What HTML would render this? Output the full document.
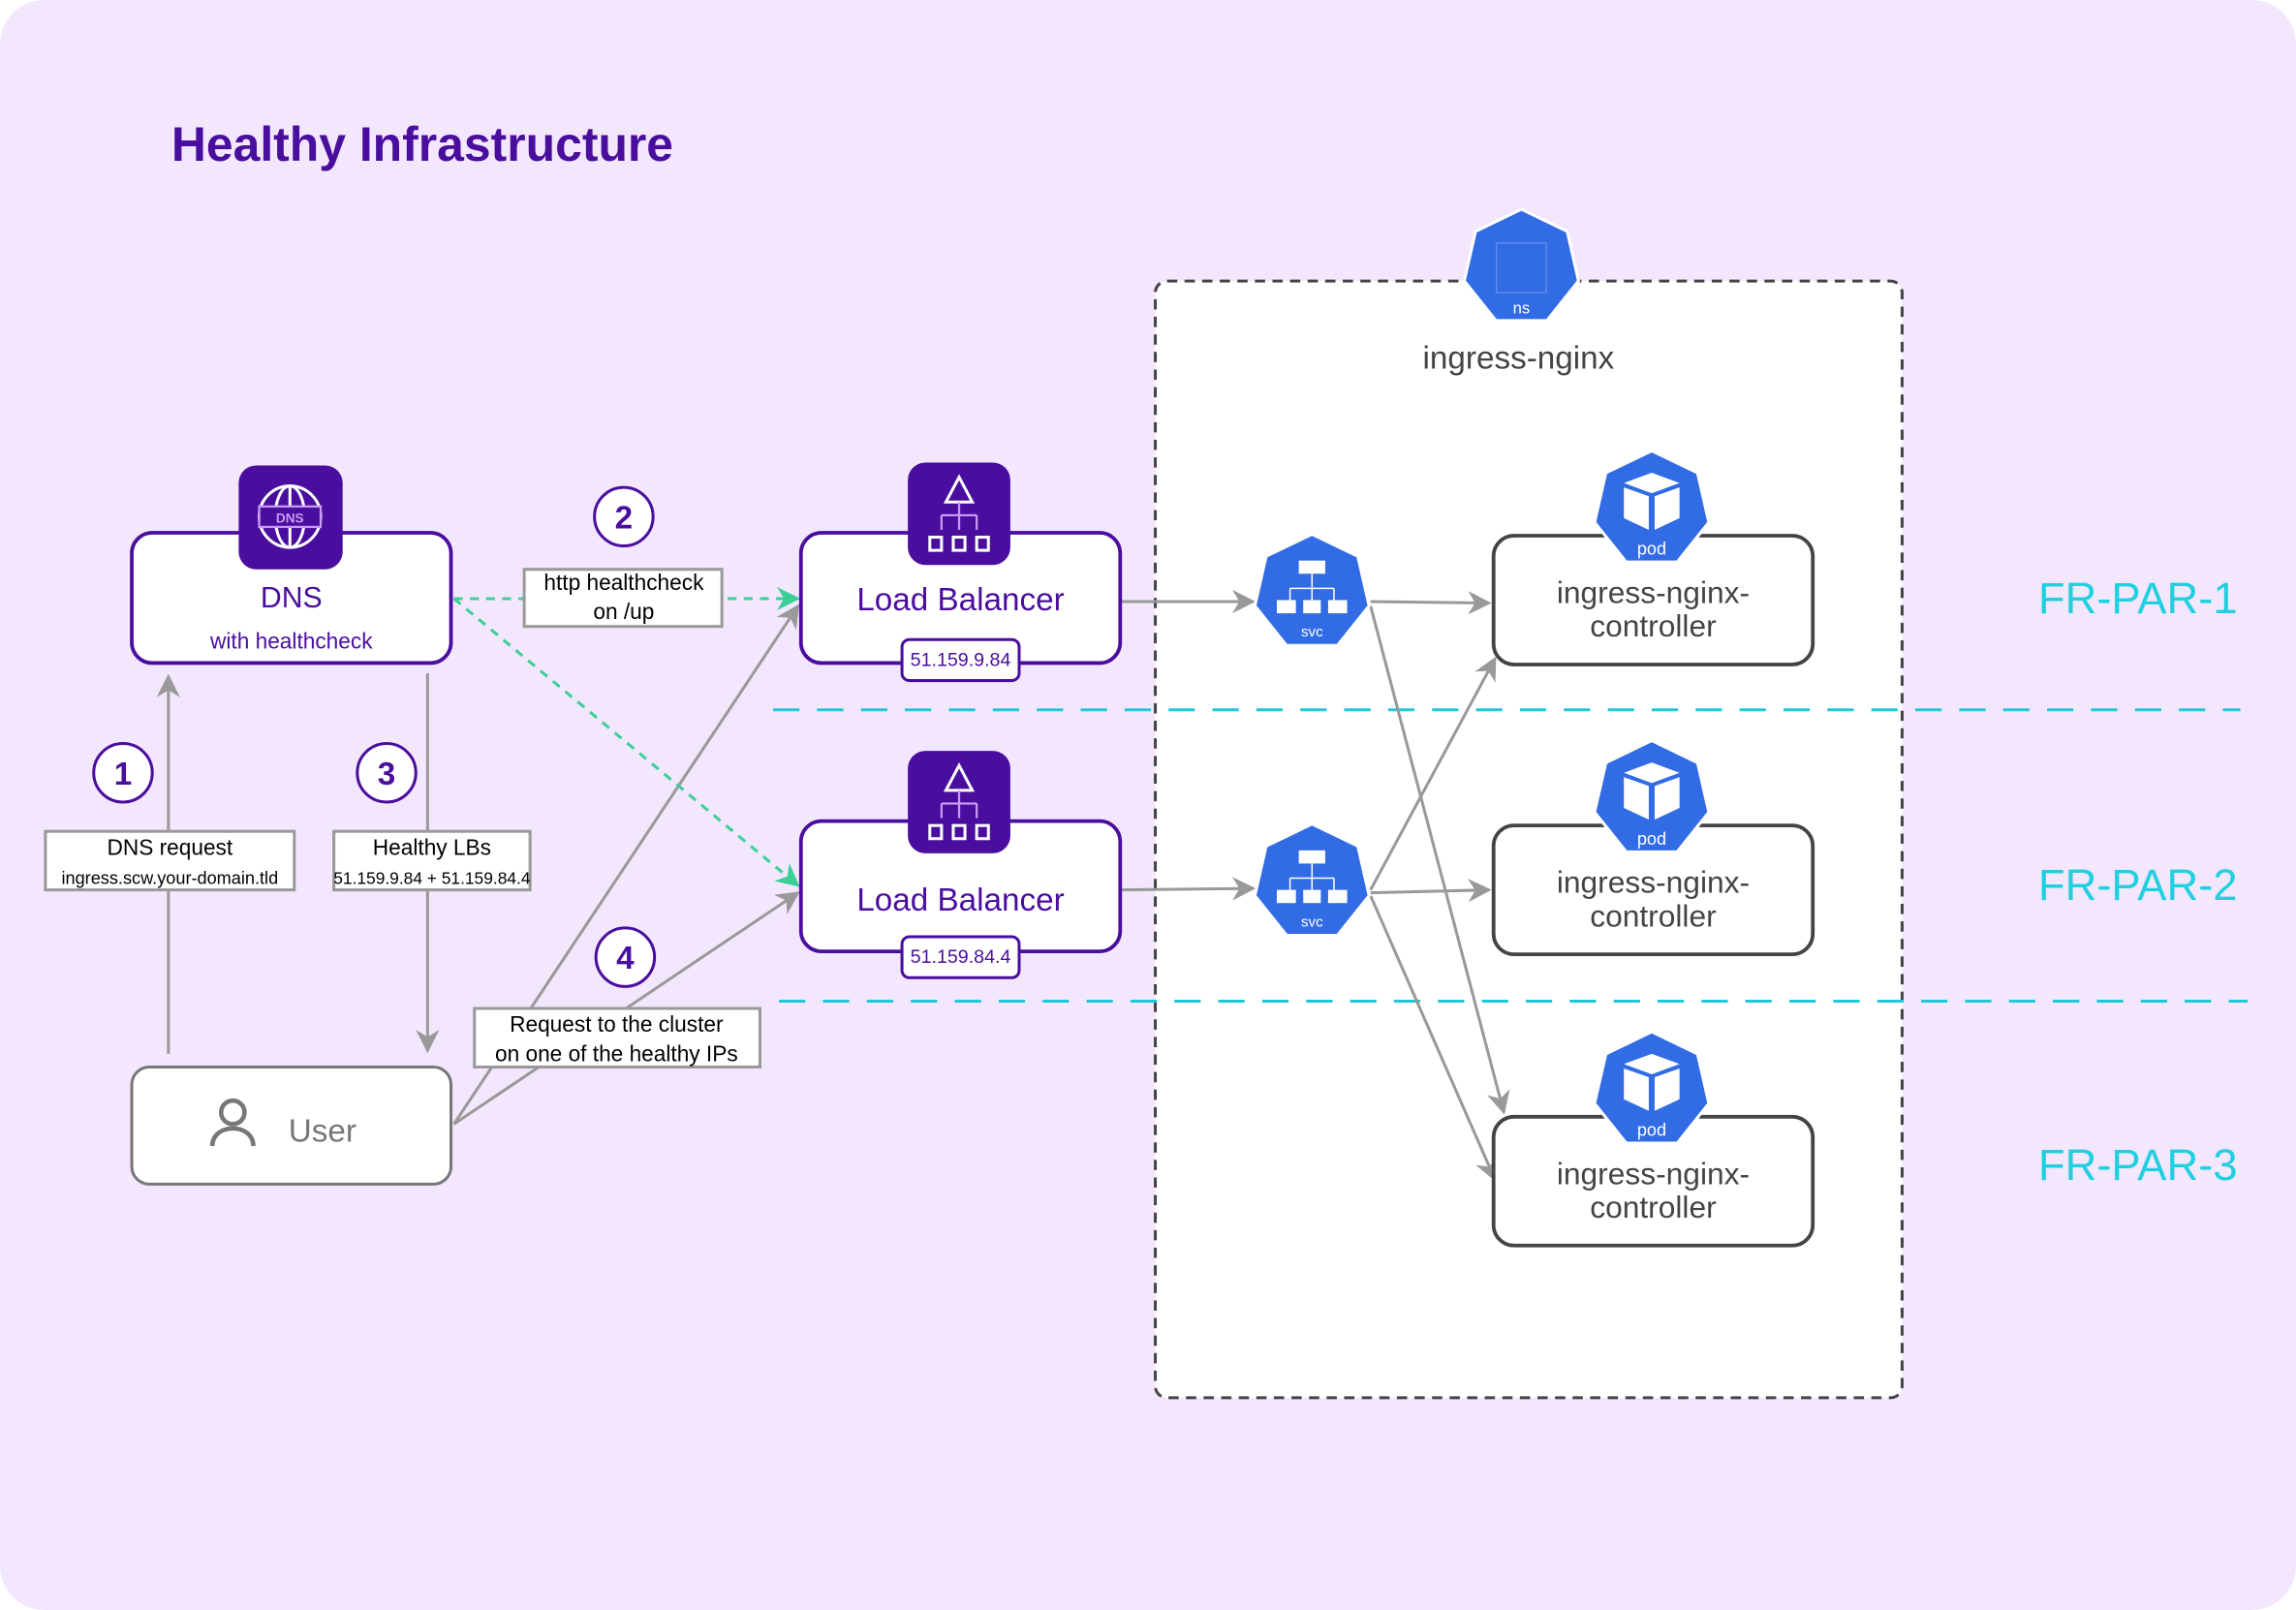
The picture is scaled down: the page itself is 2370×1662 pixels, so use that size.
<!DOCTYPE html>
<html><head><meta charset="utf-8"><style>
html,body{margin:0;padding:0;background:#fff;}
svg{display:block;}
text{font-family:"Liberation Sans",sans-serif;}
</style></head><body>
<svg width="2370" height="1662" viewBox="0 0 1568 1100" preserveAspectRatio="none" xmlns="http://www.w3.org/2000/svg">
<defs>
<marker id="ag" viewBox="0 0 10 10" refX="9" refY="5" markerWidth="16" markerHeight="16" markerUnits="userSpaceOnUse" orient="auto"><path d="M0,0 L10,5 L0,10 L3,5 z" fill="#999"/></marker>
<marker id="agr" viewBox="0 0 10 10" refX="9" refY="5" markerWidth="16" markerHeight="16" markerUnits="userSpaceOnUse" orient="auto"><path d="M0,0 L10,5 L0,10 L3,5 z" fill="#3ccf98"/></marker>
<path id="hept" d="M0,-40 L31.3,-24.9 L39,8.9 L17.4,36 L-17.4,36 L-39,8.9 L-31.3,-24.9 Z"/>
</defs>
<rect x="0" y="0" width="1568" height="1100" rx="30" fill="#f3e7fe"/>
<text x="117" y="110" font-size="33" font-weight="bold" fill="#4a0e9e">Healthy Infrastructure</text>

<!-- namespace container -->
<rect x="789" y="192" width="510" height="763" rx="8" fill="#fff" stroke="#444" stroke-width="2" stroke-dasharray="7,5"/>
<g transform="translate(1039,183)"><use href="#hept" fill="#326ce5" stroke="#fff" stroke-width="2"/>
<rect x="-17" y="-17" width="34" height="34" fill="none" stroke="#5a8af0" stroke-width="1"/>
<text x="0" y="31" font-size="11" fill="#fff" text-anchor="middle">ns</text></g>
<text x="1037" y="252" font-size="22" fill="#444" text-anchor="middle">ingress-nginx</text>

<!-- cyan dashed separators -->
<line x1="528" y1="485" x2="1530" y2="485" stroke="#1fc8d8" stroke-width="2" stroke-dasharray="18,12"/>
<line x1="532" y1="684" x2="1535" y2="684" stroke="#1fc8d8" stroke-width="2" stroke-dasharray="18,12"/>
<text x="1460" y="419" font-size="30" fill="#1fd0e0" text-anchor="middle">FR-PAR-1</text>
<text x="1460" y="615" font-size="30" fill="#1fd0e0" text-anchor="middle">FR-PAR-2</text>
<text x="1460" y="806" font-size="30" fill="#1fd0e0" text-anchor="middle">FR-PAR-3</text>

<!-- connectors -->
<g stroke="#999" stroke-width="2" fill="none">
<line x1="115" y1="720" x2="115" y2="462" marker-end="url(#ag)"/>
<line x1="292" y1="460" x2="292" y2="718" marker-end="url(#ag)"/>
<line x1="310" y1="768" x2="545" y2="414" marker-end="url(#ag)"/>
<line x1="310" y1="768" x2="545" y2="610" marker-end="url(#ag)"/>
<line x1="765" y1="411" x2="856" y2="411" marker-end="url(#ag)"/>
<line x1="765" y1="608" x2="856" y2="607" marker-end="url(#ag)"/>
<line x1="936" y1="411" x2="1017" y2="412" marker-end="url(#ag)"/>
<line x1="936" y1="414" x2="1027" y2="760" marker-end="url(#ag)"/>
<line x1="936" y1="608" x2="1021" y2="450" marker-end="url(#ag)"/>
<line x1="936" y1="610" x2="1017" y2="608" marker-end="url(#ag)"/>
<line x1="936" y1="612" x2="1021" y2="806" marker-end="url(#ag)"/>
</g>
<g stroke="#3ccf98" stroke-width="2" fill="none" stroke-dasharray="6,5">
<line x1="310" y1="409" x2="545" y2="409" marker-end="url(#agr)"/>
<line x1="310" y1="409" x2="545" y2="605" marker-end="url(#agr)"/>
</g>

<!-- label boxes -->
<rect x="358" y="389" width="135" height="39" fill="#fff" stroke="#999" stroke-width="2"/>
<text x="426" y="403" font-size="15" fill="#000" text-anchor="middle">http healthcheck</text>
<text x="426" y="423" font-size="15" fill="#000" text-anchor="middle">on /up</text>
<rect x="31" y="568" width="170" height="40" fill="#fff" stroke="#999" stroke-width="2"/>
<text x="116" y="584" font-size="15" fill="#000" text-anchor="middle">DNS request</text>
<text x="116" y="604" font-size="12" fill="#000" text-anchor="middle">ingress.scw.your-domain.tld</text>
<rect x="228" y="568" width="134" height="40" fill="#fff" stroke="#999" stroke-width="2"/>
<text x="295" y="584" font-size="15" fill="#000" text-anchor="middle">Healthy LBs</text>
<text x="295" y="604" font-size="11.5" fill="#000" text-anchor="middle">51.159.9.84 + 51.159.84.4</text>
<rect x="324" y="689" width="195" height="40" fill="#fff" stroke="#999" stroke-width="2"/>
<text x="421" y="705" font-size="15" fill="#000" text-anchor="middle">Request to the cluster</text>
<text x="421" y="725" font-size="15" fill="#000" text-anchor="middle">on one of the healthy IPs</text>

<!-- step circles -->
<g fill="#fff" stroke="#4a0e9e" stroke-width="2">
<ellipse cx="426" cy="353" rx="20" ry="20"/>
<ellipse cx="84" cy="528" rx="20" ry="20"/>
<ellipse cx="264" cy="528" rx="20" ry="20"/>
<ellipse cx="427" cy="654" rx="20" ry="20"/>
</g>
<g font-size="22" font-weight="bold" fill="#4a0e9e" text-anchor="middle">
<text x="426" y="361">2</text><text x="84" y="536">1</text><text x="264" y="536">3</text><text x="427" y="662">4</text>
</g>

<!-- DNS -->
<rect x="90" y="364" width="218" height="89" rx="14" fill="#fff" stroke="#4a0e9e" stroke-width="2.5"/>
<rect x="163" y="318" width="71" height="71" rx="12" fill="#4a0e9e"/>
<g stroke="#fff" stroke-width="2" fill="none">
<circle cx="198" cy="353" r="21"/>
<ellipse cx="198" cy="353" rx="10" ry="21"/>
<line x1="198" y1="332" x2="198" y2="374"/>
</g>
<rect x="177" y="346" width="42" height="14" fill="#4a0e9e" stroke="#c79cf5" stroke-width="1.5"/>
<text x="198" y="357" font-size="9" fill="#c79cf5" text-anchor="middle" font-weight="bold">DNS</text>
<text x="199" y="415" font-size="20" fill="#4a0e9e" text-anchor="middle">DNS</text>
<text x="199" y="443" font-size="15" fill="#4a0e9e" text-anchor="middle">with healthcheck</text>

<!-- Load Balancers -->
<g id="lb1">
<rect x="547" y="364" width="218" height="89" rx="14" fill="#fff" stroke="#4a0e9e" stroke-width="2.5"/>
<rect x="620" y="316" width="70" height="70" rx="12" fill="#4a0e9e"/>
<path d="M655,326 L646,343 L664,343 Z" fill="none" stroke="#fff" stroke-width="2"/>
<g stroke="#c79cf5" stroke-width="1.5" fill="none"><line x1="655" y1="343" x2="655" y2="362"/><line x1="643" y1="352" x2="667" y2="352"/><line x1="643" y1="352" x2="643" y2="362"/><line x1="667" y1="352" x2="667" y2="362"/></g>
<g fill="none" stroke="#fff" stroke-width="2"><rect x="635" y="367" width="8" height="9"/><rect x="651" y="367" width="8" height="9"/><rect x="667" y="367" width="8" height="9"/></g>
<text x="656" y="417" font-size="22" fill="#4a0e9e" text-anchor="middle">Load Balancer</text>
<rect x="616" y="437" width="80" height="28" rx="5" fill="#fff" stroke="#4a0e9e" stroke-width="2"/>
<text x="656" y="455" font-size="13" fill="#4a0e9e" text-anchor="middle">51.159.9.84</text>
</g>
<g transform="translate(0,197)">
<rect x="547" y="364" width="218" height="89" rx="14" fill="#fff" stroke="#4a0e9e" stroke-width="2.5"/>
<rect x="620" y="316" width="70" height="70" rx="12" fill="#4a0e9e"/>
<path d="M655,326 L646,343 L664,343 Z" fill="none" stroke="#fff" stroke-width="2"/>
<g stroke="#c79cf5" stroke-width="1.5" fill="none"><line x1="655" y1="343" x2="655" y2="362"/><line x1="643" y1="352" x2="667" y2="352"/><line x1="643" y1="352" x2="643" y2="362"/><line x1="667" y1="352" x2="667" y2="362"/></g>
<g fill="none" stroke="#fff" stroke-width="2"><rect x="635" y="367" width="8" height="9"/><rect x="651" y="367" width="8" height="9"/><rect x="667" y="367" width="8" height="9"/></g>
<text x="656" y="425" font-size="22" fill="#4a0e9e" text-anchor="middle">Load Balancer</text>
<rect x="616" y="443" width="80" height="28" rx="5" fill="#fff" stroke="#4a0e9e" stroke-width="2"/>
<text x="656" y="461" font-size="13" fill="#4a0e9e" text-anchor="middle">51.159.84.4</text>
</g>

<!-- User -->
<rect x="90" y="729" width="218" height="80" rx="12" fill="#fff" stroke="#777" stroke-width="2"/>
<circle cx="159" cy="760" r="8" fill="none" stroke="#777" stroke-width="3"/>
<path d="M145,783 C145,767 173,767 173,783" fill="none" stroke="#777" stroke-width="3"/>
<text x="197" y="780" font-size="22" fill="#777">User</text>

<!-- svc icons -->
<g transform="translate(896,405)"><use href="#hept" fill="#326ce5" stroke="#fff" stroke-width="2"/>
<rect x="-9" y="-22" width="18" height="9" fill="#fff"/><path d="M0,-13 V5 M-15,-3 H15 M-15,-3 V5 M15,-3 V5" stroke="#fff" stroke-width="1" fill="none"/>
<rect x="-24" y="5" width="13" height="9" fill="#fff"/><rect x="-6" y="5" width="12" height="9" fill="#fff"/><rect x="11" y="5" width="13" height="9" fill="#fff"/>
<text x="0" y="30" font-size="10" fill="#fff" text-anchor="middle">svc</text></g>
<g transform="translate(896,603)"><use href="#hept" fill="#326ce5" stroke="#fff" stroke-width="2"/>
<rect x="-9" y="-22" width="18" height="9" fill="#fff"/><path d="M0,-13 V5 M-15,-3 H15 M-15,-3 V5 M15,-3 V5" stroke="#fff" stroke-width="1" fill="none"/>
<rect x="-24" y="5" width="13" height="9" fill="#fff"/><rect x="-6" y="5" width="12" height="9" fill="#fff"/><rect x="11" y="5" width="13" height="9" fill="#fff"/>
<text x="0" y="30" font-size="10" fill="#fff" text-anchor="middle">svc</text></g>

<!-- pods -->
<g id="pod1">
<rect x="1020" y="366" width="218" height="88" rx="14" fill="#fff" stroke="#444" stroke-width="2.5"/>
<g transform="translate(1128,348)"><use href="#hept" fill="#326ce5" stroke="#fff" stroke-width="2"/>
<path d="M0,-25 L-19,-18 L0,-11 L19,-18 Z" fill="#fff"/><path d="M-19,-15 L-2,-9 L-2,14 L-19,6 Z" fill="#fff"/><path d="M19,-15 L2,-9 L2,14 L19,6 Z" fill="#fff"/>
<text x="0" y="31" font-size="12" fill="#fff" text-anchor="middle">pod</text></g>
<text x="1129" y="412" font-size="21" fill="#444" text-anchor="middle">ingress-nginx-</text>
<text x="1129" y="435" font-size="21" fill="#444" text-anchor="middle">controller</text>
</g>
<g transform="translate(0,198)">
<rect x="1020" y="366" width="218" height="88" rx="14" fill="#fff" stroke="#444" stroke-width="2.5"/>
<g transform="translate(1128,348)"><use href="#hept" fill="#326ce5" stroke="#fff" stroke-width="2"/>
<path d="M0,-25 L-19,-18 L0,-11 L19,-18 Z" fill="#fff"/><path d="M-19,-15 L-2,-9 L-2,14 L-19,6 Z" fill="#fff"/><path d="M19,-15 L2,-9 L2,14 L19,6 Z" fill="#fff"/>
<text x="0" y="31" font-size="12" fill="#fff" text-anchor="middle">pod</text></g>
<text x="1129" y="412" font-size="21" fill="#444" text-anchor="middle">ingress-nginx-</text>
<text x="1129" y="435" font-size="21" fill="#444" text-anchor="middle">controller</text>
</g>
<g transform="translate(0,397)">
<rect x="1020" y="366" width="218" height="88" rx="14" fill="#fff" stroke="#444" stroke-width="2.5"/>
<g transform="translate(1128,348)"><use href="#hept" fill="#326ce5" stroke="#fff" stroke-width="2"/>
<path d="M0,-25 L-19,-18 L0,-11 L19,-18 Z" fill="#fff"/><path d="M-19,-15 L-2,-9 L-2,14 L-19,6 Z" fill="#fff"/><path d="M19,-15 L2,-9 L2,14 L19,6 Z" fill="#fff"/>
<text x="0" y="31" font-size="12" fill="#fff" text-anchor="middle">pod</text></g>
<text x="1129" y="412" font-size="21" fill="#444" text-anchor="middle">ingress-nginx-</text>
<text x="1129" y="435" font-size="21" fill="#444" text-anchor="middle">controller</text>
</g>
</svg>
</body></html>
